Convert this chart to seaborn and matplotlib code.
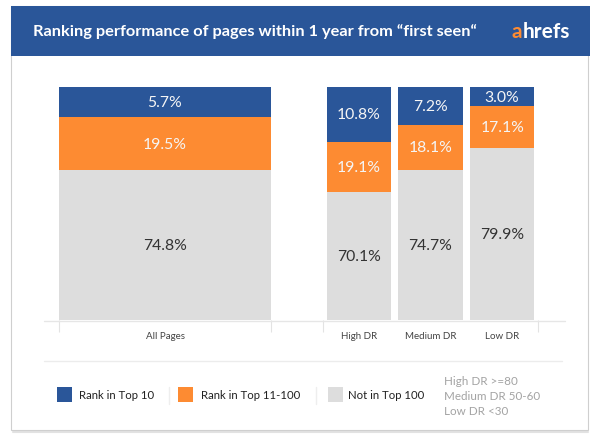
import pandas as pd
import seaborn as sns
import matplotlib.pyplot as plt
from matplotlib.patches import Rectangle
from matplotlib.lines import Line2D

# 1. Data (labels as printed on the chart)
groups_all = ["All Pages"]
groups_dr = ["High DR", "Medium DR", "Low DR"]
top10_pct = [5.7, 10.8, 7.2, 3.0]
top100_pct = [19.5, 19.1, 18.1, 17.1]
not100_pct = [74.8, 70.1, 74.7, 79.9]

# segment heights as they are drawn in the original infographic (not to scale with labels)
top10_drawn = [12.9, 23.6, 16.3, 8.2]
top100_drawn = [22.7, 21.5, 19.3, 18.0]
not100_drawn = [64.4, 54.9, 64.4, 73.8]

legend_labels = ["Rank in Top 10", "Rank in Top 11-100", "Not in Top 100"]
notes = ["High DR >=80", "Medium DR 50-60", "Low DR <30"]
title = "Ranking performance of pages within 1 year from \u201cfirst seen\u201c"

BLUE = "#2a5699"
ORANGE = "#fd8b32"
GRAY = "#dddddd"
W, H = 590, 439

df = pd.DataFrame({
    "group": groups_all + groups_dr,
    "lab10": top10_pct, "lab100": top100_pct, "labnot": not100_pct,
    "d10": top10_drawn, "d100": top100_drawn, "dnot": not100_drawn,
})
df["cum_orange"] = df["dnot"] + df["d100"]
df["cum_blue"] = df["cum_orange"] + df["d10"]

sns.set_theme(style="white")
plt.rcParams['font.family'] = ['Lato', 'DejaVu Sans']

fig = plt.figure(figsize=(W / 100, H / 100), dpi=100, facecolor="white")


def fx(px):
    return px / W


def fy(py):
    return 1 - py / H


# panel + header
fig.add_artist(Rectangle((fx(11), fy(431)), fx(577), 424 / H, transform=fig.transFigure,
                         facecolor="white", edgecolor="#cfcfcf", lw=0.8, zorder=-2))
fig.add_artist(Line2D([fx(13), fx(588)], [fy(432.5)] * 2, color="#e2e2e2", lw=1.5, zorder=-3))
fig.add_artist(Rectangle((fx(11), fy(57)), fx(579), 50 / H, transform=fig.transFigure,
                         facecolor=BLUE, edgecolor="none", zorder=-1))
fig.text(fx(33), fy(32), title, color="white", fontsize=11.8, fontweight="bold", va="center")
t_a = fig.text(fx(512), fy(32), "a", color=ORANGE, fontsize=15, fontweight="bold", va="center")
r = fig.canvas.get_renderer()
ext = t_a.get_window_extent(r)
fig.text(ext.x1 / W, fy(32), "hrefs", color="white", fontsize=15, fontweight="bold", va="center")


def draw_stack(ax, sub, width):
    sns.barplot(data=sub, x="group", y="cum_blue", color=BLUE, width=width, saturation=1,
                linewidth=0, errorbar=None, ax=ax)
    sns.barplot(data=sub, x="group", y="cum_orange", color=ORANGE, width=width, saturation=1,
                linewidth=0, errorbar=None, ax=ax)
    sns.barplot(data=sub, x="group", y="dnot", color=GRAY, width=width, saturation=1,
                linewidth=0, errorbar=None, ax=ax)
    for i, row in enumerate(sub.itertuples()):
        ax.text(i, row.dnot / 2, f"{row.labnot:.1f}%", ha="center", va="center",
                fontsize=11.3, color="#333333")
        ax.text(i, row.dnot + row.d100 / 2, f"{row.lab100:.1f}%", ha="center", va="center",
                fontsize=11.3, color="#f5f5f5")
        ax.text(i, row.cum_orange + row.d10 / 2, f"{row.lab10:.1f}%", ha="center", va="center",
                fontsize=11.3, color="#f5f5f5")
    n = len(sub)
    ax.set_xlim(-0.5, n - 0.5)
    ax.set_ylim(0, 100)
    ax.set_xlabel("")
    ax.set_ylabel("")
    ax.set_yticks([])
    ax.set_facecolor("none")
    for s in ax.spines.values():
        s.set_visible(False)
    ax.set_xticks([-0.5, n - 0.5], minor=True)
    ax.tick_params(axis="x", which="minor", bottom=True, length=8.5, width=0.8,
                   color="#e3e3e3", direction="out")
    ax.tick_params(axis="x", which="major", bottom=False, length=0, pad=8,
                   labelsize=7, labelcolor="#444444")


ax1 = fig.add_axes([fx(59), fy(321), fx(212), 233 / H])
ax2 = fig.add_axes([fx(323), fy(321), fx(215), 233 / H])
draw_stack(ax1, df.iloc[:1].reset_index(drop=True), 1.0)
draw_stack(ax2, df.iloc[1:].reset_index(drop=True), 0.9)

# baseline + separator
fig.add_artist(Line2D([fx(44), fx(565)], [fy(321.5)] * 2, color="#e6e6e6", lw=1))
fig.add_artist(Line2D([fx(44), fx(562)], [fy(362)] * 2, color="#ececec", lw=1))

# legend
leg_x = [57, 178, 328]
txt_x = [79, 201, 348]
for c, lx, tx, lab in zip([BLUE, ORANGE, GRAY], leg_x, txt_x, legend_labels):
    fig.add_artist(Rectangle((fx(lx), fy(403)), fx(15), 15 / H, transform=fig.transFigure,
                             facecolor=c, edgecolor="none"))
    fig.text(fx(tx), fy(396), lab, fontsize=8.2, color="#222222", va="center")
for sx in [169, 316]:
    fig.add_artist(Line2D([fx(sx)] * 2, [fy(388), fy(405)], color="#eeeeee", lw=1))
for yy, note in zip([382, 397, 412], notes):
    fig.text(fx(444), fy(yy), note, fontsize=8.4, color="#a3a3a3", va="center")

fig.savefig("out.png", dpi=100, facecolor="white")
